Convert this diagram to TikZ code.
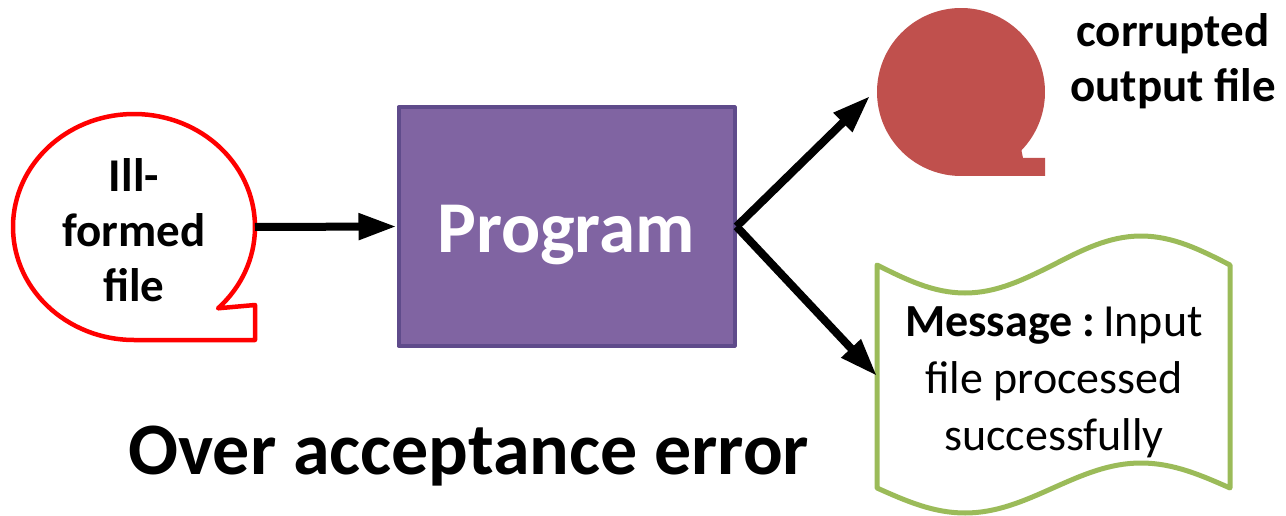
\documentclass[tikz,border=0pt]{standalone}
\usepackage{fontspec}
\setmainfont{Carlito}
\usetikzlibrary{arrows.meta}

\definecolor{bubblered}{HTML}{FF0000}
\definecolor{progfill}{HTML}{8064A2}
\definecolor{progedge}{HTML}{5F4B8B}
\definecolor{corrfill}{HTML}{C0504D}
\definecolor{scrollgreen}{HTML}{9BBB59}

\tikzset{
  flowarrow/.style={line width=8pt,-{Triangle[length=38pt,width=25pt]}},
  bodytext/.style={inner sep=0pt,align=center,font=\fontsize{47}{55}\selectfont},
  msgtext/.style={inner sep=0pt,align=center,font=\fontsize{46}{57}\selectfont},
  progbox/.style={rectangle,draw=progedge,fill=progfill,line width=4pt,
    minimum width=336pt,minimum height=238pt,inner sep=0pt},
}

\begin{document}
\begin{tikzpicture}[x=1pt,y=1pt,line join=round]
\useasboundingbox (0,0) rectangle (1286,-516);

% input file: outlined callout bubble
\draw[bubblered,line width=4.5pt]
  (134,-227) ++(-46:121 and 113)
  arc[start angle=-46,end angle=270,x radius=121,y radius=113]
  -- (255,-340) -- (255,-305) -- cycle;
\node[bodytext,font=\bfseries\fontsize{47}{55}\selectfont] (ill) at (134,-230) {Ill-\\formed\\file};
\coordinate (illE) at (255,-227);

% the program
\node[progbox] (prog) at (566.5,-226.5) {};
\node[anchor=base,inner sep=0pt,text=white,font=\bfseries\fontsize{73}{80}\selectfont] (progtext) at (566,-252) {Program};

% corrupted output: filled callout bubble
\fill[corrfill]
  (961,-92) ++(-44:84)
  arc[start angle=-44,end angle=270,radius=84]
  -- (1045,-176) -- (1045,-158) -- (1023,-158) -- cycle;
\node[bodytext,font=\bfseries\fontsize{47}{55}\selectfont] (corr) at (1173,-61) {corrupted\\output file};
\coordinate (corrTip) at (870,-96);

% message: punched-tape scroll
\draw[scrollgreen,line width=5pt,line cap=round]
  (877,-265) sin (965,-293) cos (1053,-265) sin (1141,-236) cos (1230,-265)
  -- (1230,-488)
  sin (1141,-463) cos (1053,-488) sin (965,-513) cos (877,-488) -- cycle;
\node[msgtext] (msg) at (1054,-382) {\textbf{Message :}\,Input\\file processed\\successfully};
\coordinate (msgTip) at (877,-376);

% caption
\node[anchor=base,inner sep=0pt,font=\bfseries\fontsize{74}{80}\selectfont] (caption) at (469,-474) {Over acceptance error};

% connectors
\draw[flowarrow] (illE) -- (prog.west);
\draw[flowarrow] (prog.east) -- (corrTip);
\draw[flowarrow] (prog.east) -- (msgTip);
\end{tikzpicture}
\end{document}
